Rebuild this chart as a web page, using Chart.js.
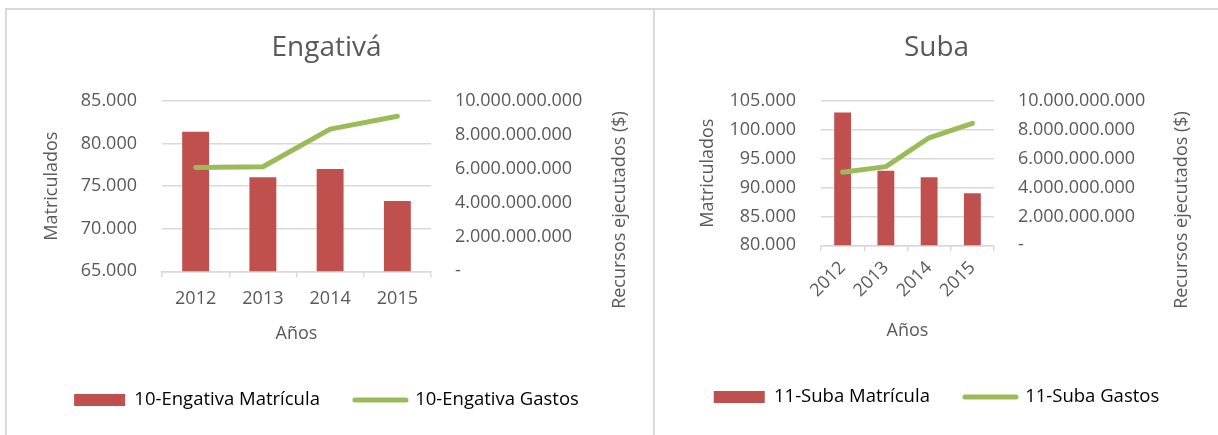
<!DOCTYPE html>
<html>
<head>
<meta charset="utf-8">
<script src="https://cdn.jsdelivr.net/npm/chart.js@4.4.1/dist/chart.umd.min.js"></script>
<style>
  body { margin: 0; background: #fff; width: 1218px; height: 435px; overflow: hidden; position: relative; }
  .frame-left { position: absolute; left: 5px; top: 8px; width: 646px; height: 440px;
    border-left: 2px solid #d9d9d9; border-top: 2px solid #d9d9d9; border-right: 2px solid #d9d9d9; }
  .frame-right { position: absolute; left: 655px; top: 8px; width: 563px; height: 440px; border-top: 2px solid #d9d9d9; }
  canvas { position: absolute; top: 0; }
  #engativaChart { left: 0; }
  #subaChart { left: 655px; }
</style>
</head>
<body>
<div class="frame-left"></div>
<div class="frame-right"></div>
<canvas id="engativaChart" width="653" height="435"></canvas>
<canvas id="subaChart" width="563" height="435"></canvas>
<script>
// Data
const years = ['2012', '2013', '2014', '2015'];
const engativaMatricula = [81400, 76050, 77000, 73250];
const engativaGastos = [6100000000, 6140000000, 8350000000, 9100000000];
const subaMatricula = [103000, 92900, 91800, 89000];
const subaGastos = [5060000000, 5450000000, 7450000000, 8450000000];

const FONT = "'Open Sans', 'Noto Sans', sans-serif";
const TEXT = '#595959';
const GRID = '#d9d9d9';
const RED = '#c0504d';
const GREEN = '#9bbb59';

Chart.defaults.font.family = FONT;
Chart.defaults.color = TEXT;

// 85000 -> "85.000", 0 -> "-"
function fmt(v) {
  if (v === 0) return '-';
  return String(v).replace(/\B(?=(\d{3})+(?!\d))/g, '.');
}

// right axis title reads bottom-to-top like the left one, so draw it by hand
const rightTitlePlugin = {
  id: 'rightTitle',
  afterDraw(chart, args, opts) {
    const ctx = chart.ctx;
    ctx.save();
    ctx.translate(opts.x, opts.y);
    ctx.rotate(-Math.PI / 2);
    ctx.font = `18px ${FONT}`;
    ctx.fillStyle = TEXT;
    ctx.textAlign = 'center';
    ctx.textBaseline = 'middle';
    ctx.fillText(opts.text, 0, 0);
    ctx.restore();
  }
};

function buildChart(id, g) {
  const ctx = document.getElementById(id);
  return new Chart(ctx, {
    data: {
      labels: years,
      datasets: [
        {
          type: 'bar',
          label: g.barLabel,
          data: g.bars,
          yAxisID: 'y',
          backgroundColor: RED,
          categoryPercentage: 1,
          barPercentage: g.barPct,
          order: 1
        },
        {
          type: 'line',
          label: g.lineLabel,
          data: g.line,
          yAxisID: 'y2',
          borderColor: GREEN,
          backgroundColor: GREEN,
          borderWidth: 5,
          borderCapStyle: 'round',
          borderJoinStyle: 'round',
          pointRadius: 0,
          tension: 0,
          order: 0
        }
      ]
    },
    options: {
      responsive: false,
      animation: false,
      layout: { padding: { top: 0, bottom: g.padBottom, left: 0, right: 0 } },
      plugins: {
        title: {
          display: true,
          text: g.title,
          color: TEXT,
          font: { size: 28, weight: 'normal' },
          padding: { top: 31.2, bottom: 36.2 }
        },
        legend: {
          position: 'bottom',
          labels: {
            usePointStyle: true,
            pointStyleWidth: 51,
            boxHeight: 12,
            padding: 35,
            color: TEXT,
            font: { size: 18.5 },
            generateLabels: chart => chart.data.datasets.map((ds, i) => ({
              text: ds.label,
              fillStyle: ds.type === 'line' ? ds.borderColor : ds.backgroundColor,
              strokeStyle: ds.type === 'line' ? ds.borderColor : ds.backgroundColor,
              lineWidth: ds.type === 'line' ? 5 : 0,
              lineCap: 'round',
              pointStyle: ds.type === 'line' ? 'line' : 'rect',
              datasetIndex: i,
              hidden: false
            }))
          }
        },
        tooltip: { enabled: false },
        rightTitle: { text: 'Recursos ejecutados ($)', x: g.rightTitleX, y: 210 }
      },
      scales: {
        x: {
          afterFit: s => { s.height = g.xHeight; },
          grid: { drawOnChartArea: false, drawTicks: true, tickLength: 6, color: GRID, lineWidth: 1.5 },
          border: { color: GRID, width: 1.5 },
          ticks: { font: { size: 18 }, color: TEXT, padding: g.xTickPad, minRotation: g.rot, maxRotation: g.rot },
          title: { display: true, text: 'Años', color: TEXT, font: { size: 18 }, padding: { top: 0, bottom: 11.5 } }
        },
        y: {
          position: 'left',
          min: g.yMin,
          max: g.yMax,
          afterFit: s => { s.width = g.leftW; },
          afterBuildTicks: s => {
            s.ticks = [];
            for (let v = g.yMin; v <= g.yMax; v += 5000) s.ticks.push({ value: v });
          },
          grid: { color: GRID, lineWidth: 1.5, drawTicks: false },
          border: { display: false },
          ticks: { font: { size: 18 }, color: TEXT, padding: 25, callback: v => fmt(v) },
          title: { display: true, text: 'Matriculados', color: TEXT, font: { size: 18 }, padding: { top: g.leftTitlePad, bottom: 0 } }
        },
        y2: {
          position: 'right',
          min: 0,
          max: 10000000000,
          afterFit: s => { s.width = g.rightW; },
          afterBuildTicks: s => {
            s.ticks = [];
            for (let v = 0; v <= 10000000000; v += 2000000000) s.ticks.push({ value: v });
          },
          grid: { drawOnChartArea: false, drawTicks: false },
          border: { display: false },
          ticks: { font: { size: 18 }, color: TEXT, padding: 24, callback: v => fmt(v) }
        }
      }
    },
    plugins: [rightTitlePlugin]
  });
}

buildChart('engativaChart', {
  title: 'Engativá',
  barLabel: '10-Engativa Matrícula',
  lineLabel: '10-Engativa Gastos',
  bars: engativaMatricula,
  line: engativaGastos,
  barPct: 0.4,
  yMin: 65000,
  yMax: 85000,
  leftW: 162,
  rightW: 222,
  leftTitlePad: 41.2,
  rightTitleX: 620,
  xHeight: 84.5,
  xTickPad: 11,
  rot: 0,
  padBottom: 15.75
});

buildChart('subaChart', {
  title: 'Suba',
  barLabel: '11-Suba Matrícula',
  lineLabel: '11-Suba Gastos',
  bars: subaMatricula,
  line: subaGastos,
  barPct: 0.39,
  yMin: 80000,
  yMax: 105000,
  leftW: 166,
  rightW: 224,
  leftTitlePad: 42.2,
  rightTitleX: 527,
  xHeight: 107.5,
  xTickPad: 6,
  rot: 45,
  padBottom: 18.75
});
</script>
</body>
</html>
